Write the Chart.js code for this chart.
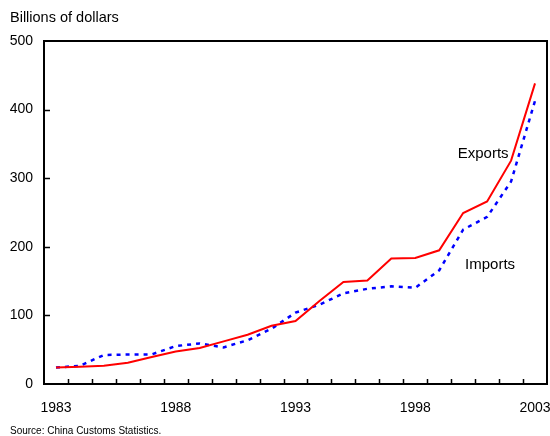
<!DOCTYPE html>
<html>
<head>
<meta charset="utf-8">
<script src="https://cdn.jsdelivr.net/npm/chart.js@4"></script>
<style>
  html, body { margin: 0; padding: 0; background: #fff; }
  #wrap { width: 550px; height: 436px; }
</style>
</head>
<body>
<div id="wrap"><canvas id="tradeChart" width="550" height="436"></canvas></div>
<script>
// China trade, billions of dollars
const years = ['1983', '1984', '1985', '1986', '1987', '1988', '1989', '1990', '1991', '1992', '1993',
               '1994', '1995', '1996', '1997', '1998', '1999', '2000', '2001', '2002', '2003'];
const exportsData = [24, 25, 26.5, 30.9, 39.4, 47.5, 52.5, 62.1, 71.8, 84.9, 91.7,
                     121.0, 148.8, 151.0, 182.8, 183.7, 194.9, 249.2, 266.1, 325.6, 438.2];
const importsData = [24, 26.5, 42.3, 42.9, 43.2, 55.3, 59.1, 53.4, 63.8, 80.6, 104.0,
                     115.6, 132.1, 138.8, 142.4, 140.2, 165.7, 225.1, 243.6, 295.2, 412.8];
const xTickLabels = ['1983', '1988', '1993', '1998', '2003'];
const yTicks = [0, 100, 200, 300, 400, 500];

const FONT = '"Liberation Sans", Arial, sans-serif';

// frame, inward tick marks and the text around the plot
const decorations = {
    id: 'decorations',
    afterDraw(chart) {
        const ctx = chart.ctx;
        const area = chart.chartArea;
        const xs = chart.scales.x;
        const ys = chart.scales.y;
        ctx.save();
        ctx.strokeStyle = '#000';
        ctx.lineWidth = 2;
        ctx.strokeRect(area.left, area.top, area.right - area.left, area.bottom - area.top);

        ctx.lineWidth = 1.5;
        ctx.beginPath();
        for (let i = 1; i < years.length; i++) {
            const x = Math.round((xs.getPixelForValue(i - 1) + xs.getPixelForValue(i)) / 2) + 0.5;
            ctx.moveTo(x, area.bottom);
            ctx.lineTo(x, area.bottom - 5);
        }
        yTicks.slice(1, -1).forEach(v => {
            const y = Math.round(ys.getPixelForValue(v)) + 0.5;
            ctx.moveTo(area.left, y);
            ctx.lineTo(area.left + 6, y);
        });
        ctx.stroke();

        ctx.fillStyle = '#000';
        ctx.textBaseline = 'middle';
        ctx.textAlign = 'left';
        ctx.font = '14.5px ' + FONT;
        ctx.fillText('Billions of dollars', 10, 18);
        ctx.font = '10px ' + FONT;
        ctx.fillText('Source: China Customs Statistics.', 10, 431);

        ctx.textAlign = 'center';
        ctx.font = '15px ' + FONT;
        ctx.fillText('Exports', xs.getPixelForValue(18) - 4, ys.getPixelForValue(336));
        ctx.fillText('Imports', xs.getPixelForValue(18) + 3, ys.getPixelForValue(174));
        ctx.restore();
    }
};

new Chart(document.getElementById('tradeChart'), {
    type: 'line',
    data: {
        labels: years,
        datasets: [{
            label: 'Exports',
            data: exportsData,
            borderColor: '#ff0000',
            borderWidth: 2,
            pointRadius: 0,
            tension: 0,
            fill: false
        }, {
            label: 'Imports',
            data: importsData,
            borderColor: '#0000ff',
            borderWidth: 2.5,
            borderDash: [4, 5],
            borderCapStyle: 'butt',
            pointRadius: 0,
            tension: 0,
            fill: false
        }]
    },
    options: {
        responsive: false,
        animation: false,
        layout: { padding: { top: 41, right: 3, bottom: 20, left: 10 } },
        plugins: {
            legend: { display: false },
            tooltip: { enabled: false }
        },
        scales: {
            x: {
                type: 'category',
                offset: true,
                grid: { display: false, drawTicks: false },
                border: { display: false },
                ticks: {
                    autoSkip: false,
                    maxRotation: 0,
                    padding: 16,
                    color: '#000',
                    font: { family: FONT, size: 14 },
                    callback: function (val, idx) {
                        const lab = this.getLabelForValue(val);
                        return xTickLabels.includes(lab) ? lab : '';
                    }
                },
                afterFit(scale) {
                    scale.height = 32;
                    scale.paddingLeft = 0;
                    scale.paddingRight = 0;
                }
            },
            y: {
                min: yTicks[0],
                max: yTicks[yTicks.length - 1],
                grid: { display: false, drawTicks: false },
                border: { display: false },
                ticks: {
                    stepSize: 100,
                    padding: 11,
                    color: '#000',
                    font: { family: FONT, size: 14 }
                },
                afterFit(scale) {
                    scale.width = 34;
                    scale.paddingTop = 0;
                    scale.paddingBottom = 0;
                }
            }
        }
    },
    plugins: [decorations]
});
</script>
</body>
</html>
